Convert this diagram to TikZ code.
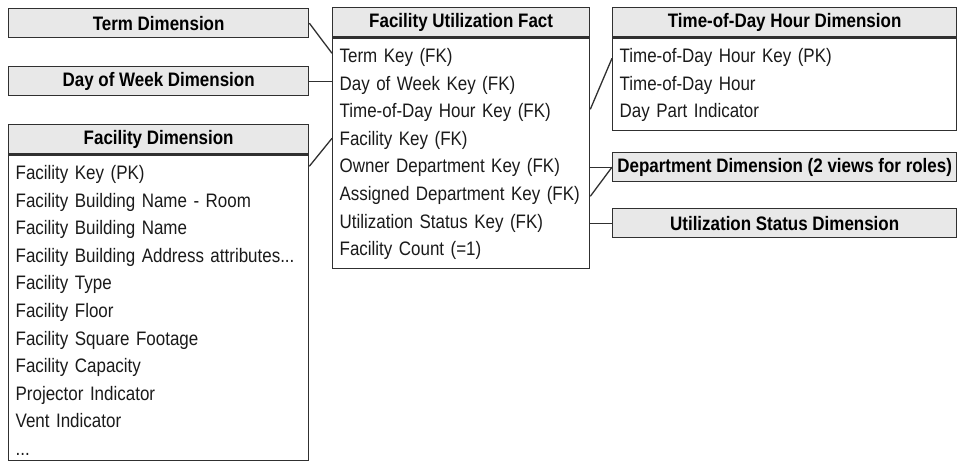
\documentclass[tikz,border=0pt]{standalone}
\usepackage{fontspec}
\setmainfont{Liberation Sans}[FakeStretch=0.87]
\usetikzlibrary{positioning,calc}
\definecolor{headgray}{HTML}{E8E8E8}
\definecolor{edgegray}{HTML}{303030}
\definecolor{inkgray}{HTML}{1A1A1A}
\newcommand\rowstrut{\rule[-8pt]{0pt}{27.6pt}}
\newcommand\topstrut{\rule{0pt}{19.6pt}}

\tikzset{
  tblhead/.style={draw=edgegray, fill=headgray, line width=1.3pt, minimum height=29pt,
    inner sep=0pt, anchor=north west, font=\fontsize{19.5}{27.6}\selectfont\bfseries, text=black},
  tblbody/.style={draw=edgegray, line width=1.3pt, align=left, inner xsep=7pt, inner ysep=5pt,
    anchor=north west, font=\fontsize{19.5}{27.6}\selectfont, text=inkgray},
  link/.style={draw=edgegray, line width=1.3pt}
}

\begin{document}
\begin{tikzpicture}[x=1pt, y=-1pt]
  \useasboundingbox (0,0) rectangle (957,467);

  % dimensions on the left
  \node[tblhead, minimum width=300pt] (termdim) at (8,8) {Term Dimension};
  \node[tblhead, minimum width=300pt] (daydim) at (8,66) {Day of Week Dimension};
  \node[tblhead, minimum width=300pt] (facdim) at (8,124) {Facility Dimension};
  \node[tblbody, text width=286pt] (facbody) at (facdim.south west)
    {\rowstrut Facility Key (PK)\\
     \rowstrut Facility Building Name - Room\\
     \rowstrut Facility Building Name\\
     \rowstrut Facility Building Address attributes...\\
     \rowstrut Facility Type\\
     \rowstrut Facility Floor\\
     \rowstrut Facility Square Footage\\
     \rowstrut Facility Capacity\\
     \rowstrut Projector Indicator\\
     \rowstrut Vent Indicator\\
     \topstrut ...};

  % fact table
  \node[tblhead, minimum width=257pt] (factdim) at (332,7) {Facility Utilization Fact};
  \node[tblbody, text width=243pt] (factbody) at (factdim.south west)
    {\rowstrut Term Key (FK)\\
     \rowstrut Day of Week Key (FK)\\
     \rowstrut Time-of-Day Hour Key (FK)\\
     \rowstrut Facility Key (FK)\\
     \rowstrut Owner Department Key (FK)\\
     \rowstrut Assigned Department Key (FK)\\
     \rowstrut Utilization Status Key (FK)\\
     \rowstrut Facility Count (=1)};

  % dimensions on the right
  \node[tblhead, minimum width=344pt] (timedim) at (612,7) {Time-of-Day Hour Dimension};
  \node[tblbody, text width=330pt] (timebody) at (timedim.south west)
    {\rowstrut Time-of-Day Hour Key (PK)\\
     \rowstrut Time-of-Day Hour\\
     \rowstrut Day Part Indicator};
  \node[tblhead, minimum width=344pt] (deptdim) at (612,152) {Department Dimension (2 views for roles)};
  \node[tblhead, minimum width=344pt] (utildim) at (612,208) {Utilization Status Dimension};

  % key ends
  \coordinate (fk-term) at ($(factbody.north west)+(0,16)$);
  \coordinate (fk-fac) at ($(factbody.north west)+(0,101)$);
  \coordinate (pk-fac) at ($(facbody.north east)+(0,12)$);
  \coordinate (fk-time) at ($(factbody.north east)+(0,72)$);
  \coordinate (pk-time) at ($(timebody.north west)+(0,21)$);
  \coordinate (fk-assigned) at ($(factbody.north east)+(0,159)$);

  \draw[link] (termdim.east) -- (fk-term);
  \draw[link] (daydim.east) -- (daydim.east -| factbody.west);
  \draw[link] (pk-fac) -- (fk-fac);
  \draw[link] (fk-time) -- (pk-time);
  \draw[link] (deptdim.west -| factbody.east) -- (deptdim.west);
  \draw[link] (fk-assigned) -- (deptdim.west);
  \draw[link] (utildim.west -| factbody.east) -- (utildim.west);
\end{tikzpicture}
\end{document}
